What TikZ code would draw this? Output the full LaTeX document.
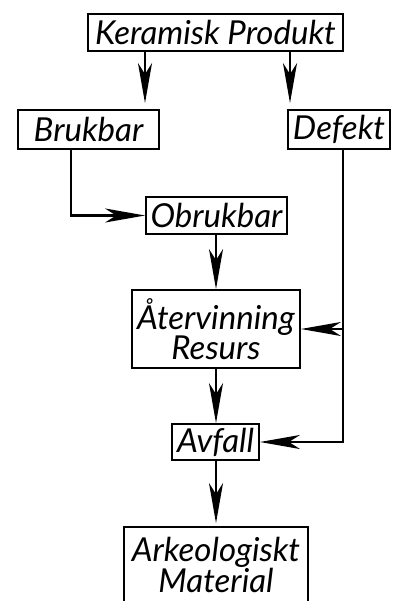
\documentclass[tikz,border=0pt]{standalone}
\usepackage{fontspec}
\setmainfont{Lato}
\usetikzlibrary{arrows.meta}
\tikzset{
  box/.style={draw, line width=1.8pt, inner sep=0pt, align=center,
    font=\itshape\fontsize{33}{30}\selectfont},
  arr/.style={line width=2.2pt, -{Stealth[length=40pt, width=14pt, inset=11pt]}},
}
\begin{document}
\begin{tikzpicture}[x=1pt, y=-1pt]
  \useasboundingbox (0,0) rectangle (394,601);
  \begin{scope}
    \clip (0,0) rectangle (394,601);
    \node[box, minimum width=255pt, minimum height=37pt] (kp) at (215.5,32.5) {Keramisk Produkt};
    \node[box, minimum width=141pt, minimum height=39pt] (bb) at (88.5,129.5) {Brukbar};
    \node[box, minimum width=102pt, minimum height=39pt] (df) at (339,129.5) {Defekt};
    \node[box, minimum width=141pt, minimum height=37pt] (ob) at (216.5,215.5) {Obrukbar};
    \node[box, minimum width=168pt, minimum height=78pt] (at) at (216,329) {Återvinning\\Resurs};
    \node[box, minimum width=87pt, minimum height=36pt] (av) at (215.5,442) {Avfall};
    \node[box, minimum width=184pt, minimum height=76pt, font=\itshape\fontsize{33}{31}\selectfont] (ar) at (216,565) {Arkeologiskt\\Material};

    % vertical tracks of the connectors
    \coordinate (xl) at (145,0);
    \coordinate (xr) at (290,0);
    \coordinate (xb) at (71,0);
    \coordinate (xd) at (343,0);
    \coordinate (xm) at (216,0);

    \draw[arr, shorten >=6pt] (xl |- kp.south) -- (xl |- bb.north);
    \draw[arr, shorten >=6pt] (xr |- kp.south) -- (xr |- df.north);
    \draw[arr] (xb |- bb.south) |- (ob.west);
    \draw[arr] (xm |- ob.south) -- (xm |- at.north);
    \draw[arr] (xm |- at.south) -- (xm |- av.north);
    \draw[arr, shorten >=3pt] (xm |- av.south) -- (xm |- ar.north);
    \draw[arr] (xd |- df.south) |- (av.east);
    \draw[arr] (xd |- at.east) -- (at.east);
  \end{scope}
\end{tikzpicture}
\end{document}
